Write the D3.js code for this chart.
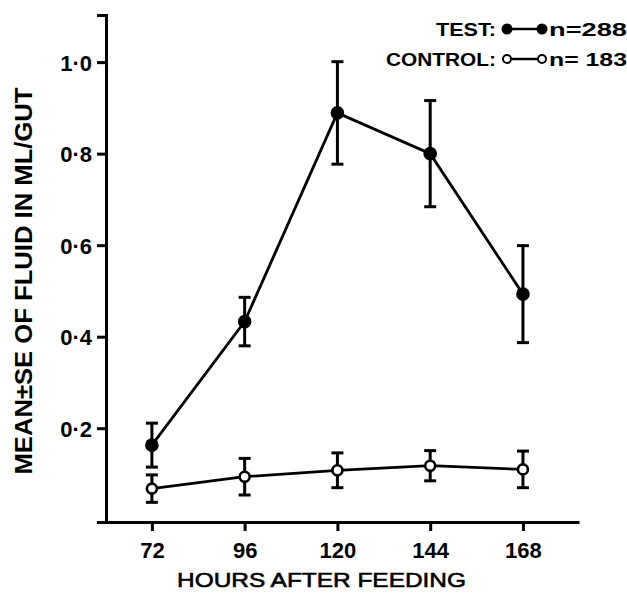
<!DOCTYPE html>
<html>
<head>
<meta charset="utf-8">
<script src="https://cdn.jsdelivr.net/npm/d3@7"></script>
<style>
  html, body { margin: 0; padding: 0; background: #fff; }
  svg { display: block; }
  text { font-family: "Liberation Sans", Arial, sans-serif; fill: #000; }
</style>
</head>
<body>
<svg id="chart" width="627" height="594"></svg>
<script>
// ---- data ----
const hours = [72, 96, 120, 144, 168];
const testMean = [0.163, 0.433, 0.889, 0.800, 0.493];
const testSE = [0.048, 0.053, 0.112, 0.116, 0.106];
const controlMean = [0.068, 0.094, 0.108, 0.118, 0.110];
const controlSE = [0.030, 0.040, 0.038, 0.033, 0.040];
const yTickValues = [0.2, 0.4, 0.6, 0.8, 1.0];
const yTickLabels = ["0·2", "0·4", "0·6", "0·8", "1·0"];
const xTickLabels = ["72", "96", "120", "144", "168"];
const legendLabels = ["TEST:", "CONTROL:"];
const legendN = ["n=288", "n= 183"];
const xTitle = "HOURS AFTER FEEDING";
const yTitle = "MEAN\u00B1SE OF FLUID IN ML/GUT";

const svg = d3.select("#chart");

const x = d3.scaleLinear().domain([57.8, 182.5]).range([97, 579]);
const y = d3.scaleLinear().domain([-0.005, 1.103]).range([522, 15]);

// axes
const yAxis = d3.axisLeft(y)
  .tickValues(yTickValues)
  .tickFormat((d, i) => yTickLabels[i])
  .tickSize(9).tickSizeOuter(9).tickPadding(5);
const gy = svg.append("g").attr("transform", `translate(${x.range()[0] + 9},0)`).call(yAxis);

const xAxis = d3.axisBottom(x)
  .tickValues(hours)
  .tickFormat((d, i) => xTickLabels[i])
  .tickSize(9).tickSizeOuter(0).tickPadding(11);
const gx = svg.append("g").attr("transform", `translate(0,${y.range()[0]})`).call(xAxis);

[gx, gy].forEach(g => {
  g.selectAll("path.domain").attr("stroke", "#000").attr("stroke-width", 3);
  g.selectAll(".tick line").attr("stroke", "#000").attr("stroke-width", 3);
  g.selectAll(".tick text")
    .style("font-family", "'Liberation Sans', Arial, sans-serif")
    .style("font-weight", "bold").style("font-size", "22px").attr("fill", "#000");
});
gy.selectAll(".tick text").attr("dy", "0.36em");

// series
const series = [
  { mean: testMean, se: testSE, filled: true },
  { mean: controlMean, se: controlSE, filled: false }
];

const line = d3.line().x(d => x(d.h)).y(d => y(d.m));

series.forEach(s => {
  const pts = hours.map((h, i) => ({ h, m: s.mean[i], se: s.se[i] }));
  svg.append("path").datum(pts)
    .attr("d", line).attr("fill", "none")
    .attr("stroke", "#000").attr("stroke-width", 2.8);

  const eb = svg.append("g");
  pts.forEach(p => {
    eb.append("line").attr("x1", x(p.h)).attr("x2", x(p.h))
      .attr("y1", y(p.m - p.se)).attr("y2", y(p.m + p.se))
      .attr("stroke", "#000").attr("stroke-width", 3);
    [p.m - p.se, p.m + p.se].forEach(v => {
      eb.append("line").attr("x1", x(p.h) - 6).attr("x2", x(p.h) + 6)
        .attr("y1", y(v)).attr("y2", y(v))
        .attr("stroke", "#000").attr("stroke-width", 3);
    });
  });

  svg.append("g").selectAll("circle").data(pts).join("circle")
    .attr("cx", d => x(d.h)).attr("cy", d => y(d.m))
    .attr("r", s.filled ? 6.8 : 5)
    .attr("fill", s.filled ? "#000" : "#fff")
    .attr("stroke", "#000").attr("stroke-width", s.filled ? 0 : 2.6);
});

// legend
const legY = [29, 59];
const legLen = [60, 110];
legendLabels.forEach((lab, i) => {
  const g = svg.append("g");
  const filled = i === 0;
  g.append("text").attr("x", 496).attr("y", legY[i]).attr("dy", "0.36em")
    .attr("text-anchor", "end").style("font-weight", "bold").style("font-size", "19px")
    .attr("textLength", legLen[i]).attr("lengthAdjust", "spacingAndGlyphs")
    .text(lab);
  g.append("line").attr("x1", 507).attr("x2", 542).attr("y1", legY[i]).attr("y2", legY[i])
    .attr("stroke", "#000").attr("stroke-width", 2.5);
  [507, 542].forEach(cx => {
    g.append("circle").attr("cx", cx).attr("cy", legY[i])
      .attr("r", filled ? 5.5 : 4)
      .attr("fill", filled ? "#000" : "#fff")
      .attr("stroke", "#000").attr("stroke-width", filled ? 0 : 2);
  });
  g.append("text").attr("x", 549).attr("y", legY[i]).attr("dy", "0.36em")
    .style("font-weight", "bold").style("font-size", "19px")
    .attr("textLength", 78).attr("lengthAdjust", "spacingAndGlyphs")
    .text(legendN[i]);
});

// titles
svg.append("text").attr("x", 321.5).attr("y", 587)
  .attr("text-anchor", "middle").style("font-size", "21px")
  .style("stroke", "#000").style("stroke-width", 0.6)
  .attr("textLength", 289).attr("lengthAdjust", "spacingAndGlyphs")
  .text(xTitle);

svg.append("text").attr("transform", "translate(32,281) rotate(-90)")
  .attr("text-anchor", "middle").style("font-weight", "bold").style("font-size", "24px")
  .attr("textLength", 387).attr("lengthAdjust", "spacingAndGlyphs")
  .text(yTitle);
</script>
</body>
</html>
